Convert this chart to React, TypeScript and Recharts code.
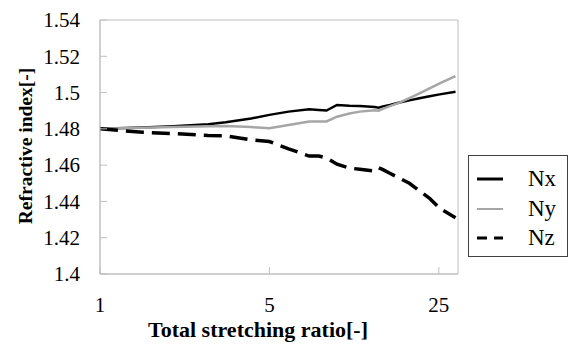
import React from 'react';
import { LineChart, Line, XAxis, YAxis, ReferenceArea } from 'recharts';

const ratios = [1, 1.5, 2, 2.8, 3.3, 4.2, 5, 6, 7.3, 8, 8.6, 9.5, 10.7, 11.8, 13.6, 14.1, 14.7, 15.7, 17.2, 18.9, 20.8, 22.9, 25.2, 29.3];
const nx = [1.48, 1.4808, 1.4815, 1.4826, 1.4837, 1.4857, 1.4877, 1.4895, 1.4908, 1.4904, 1.4901, 1.4932, 1.4928, 1.4926, 1.492, 1.4917, 1.4924, 1.4932, 1.4945, 1.4957, 1.4969, 1.498, 1.499, 1.5005];
const ny = [1.48, 1.4806, 1.481, 1.4814, 1.4816, 1.481, 1.4803, 1.4821, 1.484, 1.484, 1.4841, 1.4867, 1.4885, 1.4895, 1.4902, 1.49, 1.491, 1.4925, 1.4945, 1.497, 1.4996, 1.5023, 1.5051, 1.5091];
const nz = [1.48, 1.4781, 1.4774, 1.4763, 1.4762, 1.4739, 1.473, 1.469, 1.465, 1.465, 1.464, 1.4605, 1.4584, 1.4577, 1.4568, 1.4586, 1.4575, 1.4555, 1.4528, 1.45, 1.4458, 1.4417, 1.4362, 1.431];

const xTicks = [1, 5, 25];
const yTicks = [1.4, 1.42, 1.44, 1.46, 1.48, 1.5, 1.52, 1.54];
const xDomain = [1, 30];
const yDomain = [1.4, 1.54];
const xTitle = 'Total stretching ratio[-]';
const yTitle = 'Refractive index[-]';

const seriesNames = ['Nx', 'Ny', 'Nz'];
const seriesColors = ['#000000', '#a6a6a6', '#000000'];
const seriesWidths = [2.5, 2.5, 3.5];
const seriesDash = [undefined, undefined, '18 8'];
const legendDash = [undefined, undefined, '10 7'];

const data = ratios.map((r, i) => ({ ratio: r, Nx: nx[i], Ny: ny[i], Nz: nz[i] }));

const FONT = "'Liberation Serif', Tinos, 'Times New Roman', Times, 'DejaVu Serif', serif";
const AXIS = '#c0c0c0';

const YTick = (props: any) => {
  const { x, y, payload } = props;
  return (
    <g>
      <line x1={x + 20} x2={x + 27} y1={y} y2={y} stroke={AXIS} strokeWidth={1} />
      <text x={x} y={y} dy="0.35em" textAnchor="end" fontSize={21} style={{ fontFamily: FONT }} fill="#000">
        {payload.value}
      </text>
    </g>
  );
};

const XTick = (props: any) => {
  const { x, y, payload } = props;
  return (
    <g>
      <line x1={x} x2={x} y1={y - 23} y2={y - 30} stroke={AXIS} strokeWidth={1} />
      <text x={x} y={y} dy="0.71em" textAnchor="middle" fontSize={21} style={{ fontFamily: FONT }} fill="#000">
        {payload.value}
      </text>
    </g>
  );
};

const YTitle = (props: any) => {
  const vb = props.viewBox || { x: 0, y: 20, width: 100, height: 254 };
  const cx = vb.x + 25;
  const cy = vb.y + vb.height / 2 - 1;
  return (
    <text x={cx} y={cy} transform={`rotate(-90, ${cx}, ${cy})`} textAnchor="middle" dy="0.35em"
      fontSize={19.5} fontWeight="bold" style={{ fontFamily: FONT }} fill="#000">
      {yTitle}
    </text>
  );
};

const XTitle = (props: any) => {
  const vb = props.viewBox || { x: 100, y: 274, width: 358, height: 71 };
  return (
    <text x={vb.x + 158} y={vb.y + 63} textAnchor="middle"
      fontSize={22} fontWeight="bold" style={{ fontFamily: FONT }} fill="#000">
      {xTitle}
    </text>
  );
};

const LegendBox = () => (
  <div style={{ position: 'absolute', left: 468, top: 155, width: 100, height: 102, border: '1px solid #404040', boxSizing: 'border-box', background: '#fff' }}>
    {seriesNames.map((name, i) => (
      <div key={name} style={{ position: 'absolute', left: 0, top: 8 + i * 29.5, height: 30, width: 98 }}>
        <svg width={30} height={30} style={{ position: 'absolute', left: 8, top: 0 }}>
          <line x1={0} x2={26} y1={15} y2={15} stroke={seriesColors[i]} strokeWidth={i === 1 ? 2 : 3} strokeDasharray={legendDash[i]} />
        </svg>
        <span style={{ position: 'absolute', left: 59, top: 0, lineHeight: '30px', fontSize: 23, fontFamily: FONT, color: '#000' }}>{name}</span>
      </div>
    ))}
  </div>
);

export default function App() {
  return (
    <div style={{ position: 'absolute', left: 0, top: 0, width: 569, height: 345, background: '#fff', fontFamily: FONT }}>
      <LineChart width={569} height={345} data={data} margin={{ top: 20, right: 111, left: 0, bottom: 0 }}>
        <XAxis dataKey="ratio" type="number" scale="log" domain={xDomain} ticks={xTicks} allowDataOverflow
          axisLine={{ stroke: AXIS }} tickLine={false} tickSize={0} tickMargin={23} height={71}
          tick={<XTick />} interval={0} label={<XTitle />} />
        <YAxis type="number" domain={yDomain} ticks={yTicks} allowDataOverflow
          axisLine={{ stroke: AXIS }} tickLine={false} tickSize={0} tickMargin={20} width={100}
          tick={<YTick />} interval={0} label={<YTitle />} />
        <ReferenceArea x1={xDomain[0]} x2={xDomain[1]} y1={yDomain[0]} y2={yDomain[1]} fill="none" stroke={AXIS} strokeWidth={1} ifOverflow="visible" />
        {seriesNames.map((name, i) => (
          <Line key={name} dataKey={name} type="linear" stroke={seriesColors[i]} strokeWidth={seriesWidths[i]}
            strokeDasharray={seriesDash[i]} dot={false} activeDot={false} isAnimationActive={false} />
        ))}
      </LineChart>
      <LegendBox />
    </div>
  );
}
